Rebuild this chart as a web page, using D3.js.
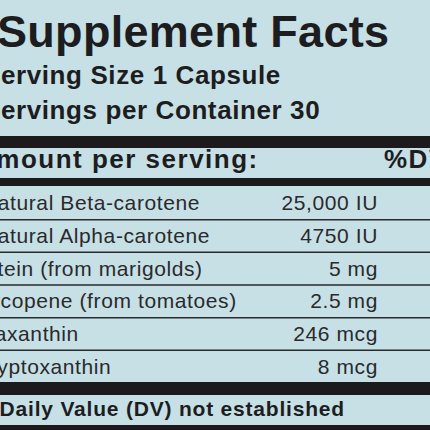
<!DOCTYPE html>
<html><head><meta charset="utf-8">
<script src="https://cdn.jsdelivr.net/npm/d3@7"></script>
<style>body{margin:0;background:#c6e0e5}svg{display:block}</style>
</head><body><svg></svg>
<script>
const nutrients = ["Natural Beta-carotene", "Natural Alpha-carotene", "Lutein (from marigolds)", "Lycopene (from tomatoes)", "Zeaxanthin", "Cryptoxanthin"];
const amounts = ["25,000 IU", "4750 IU", "5 mg", "2.5 mg", "246 mcg", "8 mcg"];
const labelShift = [-18, -18, -27, -22, -31, -26]; // label starts cut off at left edge

const w = 430, h = 430;
const font = "'Liberation Sans', Arial, sans-serif";
const ink = "#1d1d1f";
const svg = d3.select("svg").attr("width", w).attr("height", h);
svg.append("rect").attr("width", w).attr("height", h).attr("fill", "#c6e0e5");

const txt = (x, yy, s, size, bold, ls) => svg.append("text").attr("x", x).attr("y", yy).text(s)
  .attr("font-family", font).attr("font-weight", bold ? "bold" : "normal")
  .attr("font-size", size).attr("letter-spacing", ls || 0).attr("fill", ink);

txt(-3, 47, "Supplement Facts", 45, true, 0.3);
txt(-17, 84, "Serving Size 1 Capsule", 26, true, 0.6);
txt(-17, 119, "Servings per Container 30", 26, true, 0.6);

const bar = (yy, hh) => svg.append("rect").attr("x", 0).attr("y", yy).attr("width", w).attr("height", hh).attr("fill", "#1c1a1d");
bar(136, 12);
txt(-24, 168, "Amount per serving:", 26, true, 1.5);
txt(384, 168, "%DV", 26, true, 1.5);
bar(178, 8);

const y = d3.scaleBand().domain(nutrients).range([187, 383]);
const rows = svg.selectAll("g.row").data(nutrients).enter().append("g")
  .attr("transform", d => `translate(0,${y(d)})`);
rows.append("text").attr("x", (d, i) => labelShift[i]).attr("y", y.bandwidth() / 2 + 7).text(d => d)
  .attr("font-family", font).attr("font-size", 21).attr("letter-spacing", 0.6).attr("fill", "#2a2a2c");
rows.append("text").attr("x", 378).attr("y", y.bandwidth() / 2 + 7).attr("text-anchor", "end")
  .text((d, i) => amounts[i]).attr("font-family", font).attr("font-size", 21).attr("letter-spacing", 0.6).attr("fill", "#2a2a2c");
rows.filter((d, i) => i < nutrients.length - 1).append("line")
  .attr("x1", 0).attr("x2", w).attr("y1", y.bandwidth()).attr("y2", y.bandwidth())
  .attr("stroke", "#2a2a2c").attr("stroke-width", 1.5);

bar(382, 13);
txt(-16, 416, "* Daily Value (DV) not established", 21, true, 0.8);
bar(425, 5);
</script></body></html>
